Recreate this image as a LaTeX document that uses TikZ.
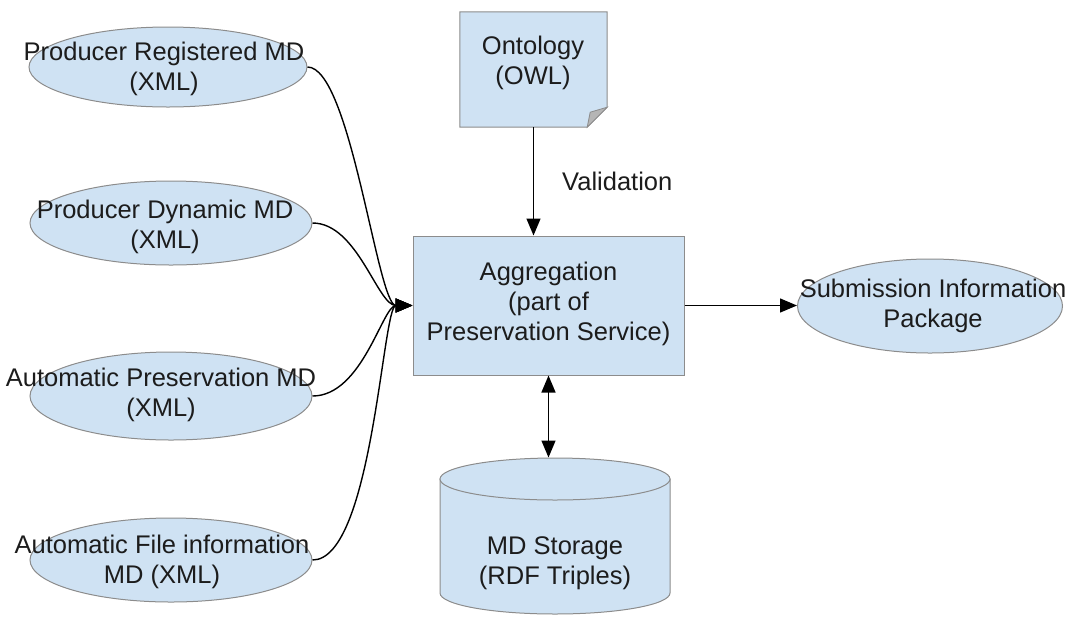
\documentclass[tikz,border=0pt]{standalone}
\usepackage{fontspec}
\setmainfont{Liberation Sans}
\usetikzlibrary{shapes.geometric,arrows.meta,calc}
\definecolor{fillblue}{HTML}{CFE2F3}
\definecolor{edgegray}{HTML}{8C8C8C}
\definecolor{foldgray}{HTML}{B5B5B5}
\definecolor{inkc}{HTML}{1C1C1C}
\begin{document}
\begin{tikzpicture}[x=1pt,y=-1pt,
  txt/.style={font=\fontsize{25.5}{30}\selectfont, text=inkc, align=center, inner sep=0pt},
  shapeline/.style={draw=edgegray, fill=fillblue, line width=1pt},
  ellbox/.style={ellipse, shapeline, inner sep=0pt},
  conn/.style={draw=black, line width=1.4pt, -{Triangle[length=17pt,width=14pt]}},
  dconn/.style={draw=black, line width=1.4pt, {Triangle[length=17pt,width=14pt]}-{Triangle[length=17pt,width=14pt]}}]
\useasboundingbox (0,0) rectangle (1071,625);

% left ellipses
\node[ellbox, minimum width=278pt, minimum height=80pt] (e1) at (168,67) {};
\node[txt] (t1) at (164,69) {Producer Registered MD\\(XML)};
\node[ellbox, minimum width=282pt, minimum height=84pt] (e2) at (171,223) {};
\node[txt] (t2) at (165,227) {Producer Dynamic MD\\(XML)};
\node[ellbox, minimum width=282pt, minimum height=88pt] (e3) at (171,396) {};
\node[txt] (t3) at (161,395) {Automatic Preservation MD\\(XML)};
\node[ellbox, minimum width=282pt, minimum height=84pt] (e4) at (171,560) {};
\node[txt] (t4) at (162,562) {Automatic File information\\MD (XML)};

% ontology note
\node[minimum width=147pt, minimum height=115pt, inner sep=0pt] (onto) at (533.5,69.5) {};
\path[shapeline] (onto.north west) -- (onto.north east) -- ($(onto.south east)+(0,-20)$)
  -- ($(onto.south east)+(-20,0)$) -- (onto.south west) -- cycle;
\path[draw=edgegray, fill=foldgray, line width=0.8pt] ($(onto.south east)+(0,-20)$)
  -- ($(onto.south east)+(-20,0)$) -- ($(onto.south east)+(-17,-15)$) -- cycle;
\node[txt] (tonto) at (533,63) {Ontology\\(OWL)};

% aggregation
\node[shapeline, rectangle, minimum width=271pt, minimum height=139pt, inner sep=0pt] (agg) at (548.5,305.5) {};
\node[txt] (tagg) at (548.5,304) {Aggregation\\(part of\\Preservation Service)};

% submission
\node[ellbox, minimum width=265pt, minimum height=94pt] (sip) at (930,306) {};
\node[txt] (tsip) at (933,306) {Submission Information\\Package};

% cylinder
\node[minimum width=230pt, minimum height=156pt, inner sep=0pt] (cyl) at (555,536) {};
\path[shapeline] (440,479) -- (440,593) .. controls (440,604.6) and (491.5,614) .. (555,614)
  .. controls (618.5,614) and (670,604.6) .. (670,593) -- (670,479) -- cycle;
\node[ellbox, minimum width=230pt, minimum height=42pt] (cyltop) at (555,479) {};
\node[txt] (tcyl) at (555,563) {MD Storage\\(RDF Triples)};

% connectors
\draw[conn] (e1.east) .. controls +(43,0) and +(-35,0) .. (agg.west);
\draw[conn] (e2.east) .. controls +(45,0) and +(-35,0) .. (agg.west);
\draw[conn] (e3.east) .. controls +(50,0) and +(-30,0) .. (agg.west);
\draw[conn] (e4.east) .. controls +(60,0) and +(-30,0) .. (agg.west);
\draw[conn] (onto.south) -- (onto.south |- agg.north) node[midway, right=28pt, txt] (val) {Validation};
\draw[conn] (agg.east) -- (agg.east -| sip.west);
\draw[dconn] (agg.south) -- (agg.south |- cyltop.north);
\end{tikzpicture}
\end{document}
